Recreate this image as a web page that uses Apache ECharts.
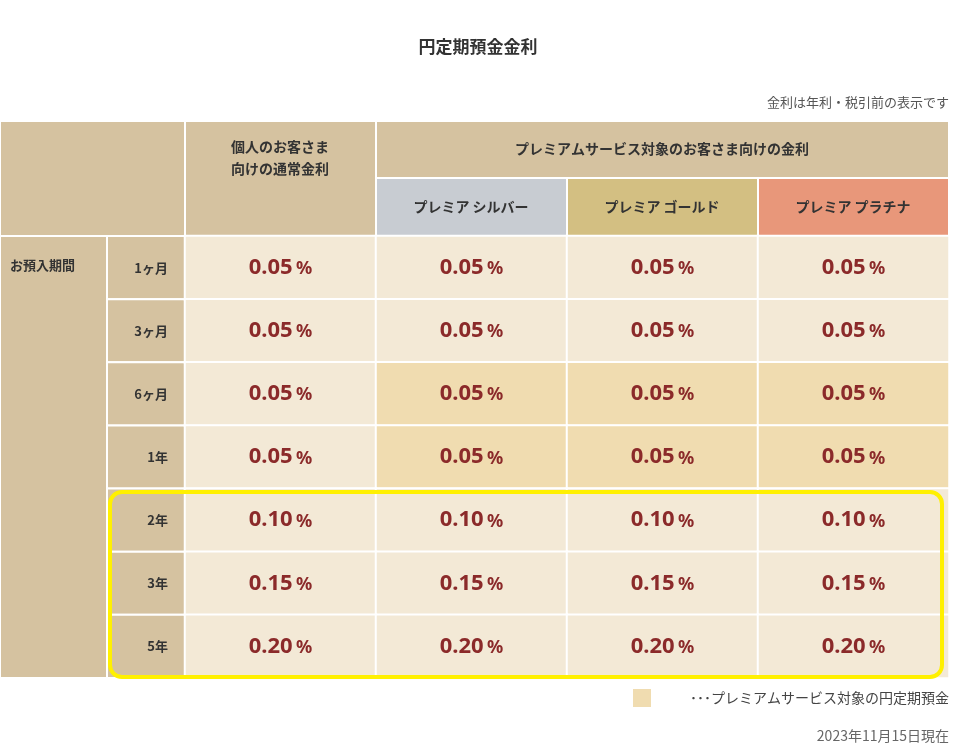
<!DOCTYPE html>
<html><head><meta charset="utf-8">
<script src="https://cdn.jsdelivr.net/npm/echarts@6/dist/echarts.min.js"></script>
<style>html,body{margin:0;background:#fff}#c{width:963px;height:753px}</style>
</head><body><div id="c"></div>
<script>
const columns = ['個人のお客さま向けの通常金利','プレミア シルバー','プレミア ゴールド','プレミア プラチナ'];
const periods = ['1ヶ月','3ヶ月','6ヶ月','1年','2年','3年','5年'];
const rates = [
  [0.05,0.05,0.05,0.05],
  [0.05,0.05,0.05,0.05],
  [0.05,0.05,0.05,0.05],
  [0.05,0.05,0.05,0.05],
  [0.10,0.10,0.10,0.10],
  [0.15,0.15,0.15,0.15],
  [0.20,0.20,0.20,0.20]
];
// 1 = premium-target deposit highlight
const premium = [
  [0,0,0,0],[0,0,0,0],[0,1,1,1],[0,1,1,1],[0,0,0,0],[0,0,0,0],[0,0,0,0]
];
const FONT = '"Noto Sans CJK JP","Noto Sans",sans-serif';
const TAN='#d5c2a0', CREAM='#f3e9d6', HILITE='#f0dcb0';
const data=[];
rates.forEach((r,i)=>r.forEach((v,j)=>data.push({value:[j,i,v],itemStyle:{color:premium[i][j]?HILITE:CREAM}})));
const X0=185,X1=949,Y0=236,Y1=678, rowH=(Y1-Y0)/7;
const g=[];
function rect(x,y,w,h,c){g.push({type:'rect',shape:{x,y,width:w,height:h},style:{fill:c,stroke:'#fff',lineWidth:2}});}
function text(x,y,t,o){g.push({type:'text',x,y,style:Object.assign({text:t,font:'bold 14px '+FONT,fill:'#333',align:'center',verticalAlign:'middle'},o||{})});}
rect(0,121,185,115,TAN);
rect(185,121,191,115,TAN);
text(280,158,'個人のお客さま\n向けの通常金利',{lineHeight:22});
rect(376,121,573,57,TAN);
text(662,149,'プレミアムサービス対象のお客さま向けの金利');
rect(376,178,191,58,'#c8ccd2'); text(471,207,columns[1]);
rect(567,178,191,58,'#d3bf82'); text(662,207,columns[2]);
rect(758,178,191,58,'#e8977a'); text(853,207,columns[3]);
rect(0,236,107,442,TAN); text(10,265,'お預入期間',{align:'left',font:'bold 13px '+FONT});
periods.forEach((p,i)=>{rect(107,Y0+i*rowH,78,rowH,TAN);text(168,Y0+(i+0.5)*rowH,p,{align:'right',font:'bold 13px '+FONT});});
g.push({type:'rect',z:100,shape:{x:110,y:492,width:832,height:185,r:12},style:{fill:'none',stroke:'#fff000',lineWidth:4}});
text(478,47,'円定期預金金利',{font:'bold 17px '+FONT});
text(949,102,'金利は年利・税引前の表示です',{align:'right',font:'13px '+FONT,fill:'#555'});
g.push({type:'rect',shape:{x:633,y:689,width:18,height:18},style:{fill:HILITE}});
text(949,698,'･･･プレミアムサービス対象の円定期預金',{align:'right',font:'14px '+FONT,fill:'#444'});
text(949,736,'2023年11月15日現在',{align:'right',font:'14px '+FONT,fill:'#666'});
const chart=echarts.init(document.getElementById('c'));
chart.setOption({
  animation:false,
  grid:{left:X0,top:Y0,width:X1-X0,height:Y1-Y0},
  xAxis:{type:'category',data:columns,show:false},
  yAxis:{type:'category',data:periods,inverse:true,show:false},
  series:[{type:'heatmap',data,itemStyle:{borderColor:'#fff',borderWidth:2},
    label:{show:true,formatter:p=>'{v|'+p.value[2].toFixed(2)+'} {p|%}',
      rich:{v:{fontSize:22,fontWeight:'bold',color:'#8b2a2a',fontFamily:'Noto Sans'},p:{fontSize:18,fontWeight:'bold',color:'#8b2a2a',fontFamily:'Noto Sans',padding:[3,0,0,0]}}},
    emphasis:{disabled:true}}],
  graphic:g
});
</script></body></html>
